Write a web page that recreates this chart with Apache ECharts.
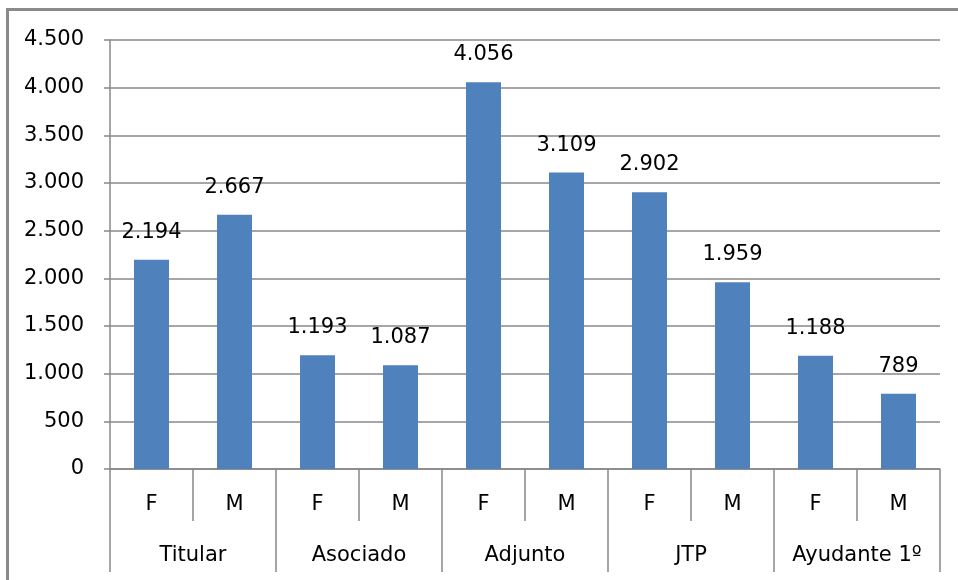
<!DOCTYPE html>
<html><head><meta charset="utf-8">
<script src="https://cdn.jsdelivr.net/npm/echarts@6/dist/echarts.min.js"></script>
<style>html,body{margin:0;padding:0;background:#fff;overflow:hidden;width:958px;height:580px}#c{width:958px;height:580px;position:absolute;left:0;top:0}
#frame{position:absolute;left:6px;top:8px;width:958px;height:580px;border-left:3px solid #8a8a8a;border-top:3px solid #8a8a8a;pointer-events:none;z-index:5}</style>
</head><body><div id="c"></div><div id="frame"></div>
<script>
const sexes = ['F','M','F','M','F','M','F','M','F','M'];
const groups = ['Titular','Asociado','Adjunto','JTP','Ayudante 1º'];
const values = [2194, 2667, 1193, 1087, 4056, 3109, 2902, 1959, 1188, 789];
const yTicks = {min: 0, max: 4500, interval: 500};

const fmt = v => String(v).replace(/\B(?=(\d{3})+(?!\d))/g, '.');
const FONT = 'DejaVu Sans';
const GRAY = '#888888';

const chart = echarts.init(document.getElementById('c'));
chart.setOption({
  animation: false,
  textStyle: {fontFamily: FONT},
  grid: {left: 110, right: 18, top: 40, bottom: 111},
  xAxis: [
    {type: 'category', data: sexes, position: 'bottom',
     axisLine: {lineStyle: {color: GRAY, width: 1.5}},
     axisTick: {show: true, interval: 0, length: 52, lineStyle: {color: GRAY, width: 1.5}},
     axisLabel: {interval: 0, margin: 25, fontSize: 21, color: '#000', fontFamily: FONT}},
    {type: 'category', data: groups, position: 'bottom', offset: 0,
     axisLine: {show: false},
     axisTick: {show: true, interval: 0, length: 103, lineStyle: {color: GRAY, width: 1.5}},
     axisLabel: {interval: 0, margin: 76, fontSize: 21, color: '#000', fontFamily: FONT}}
  ],
  yAxis: {type: 'value', min: yTicks.min, max: yTicks.max, interval: yTicks.interval,
    axisLine: {show: true, lineStyle: {color: GRAY, width: 1.5}},
    axisTick: {show: true, length: 6, inside: false, lineStyle: {color: GRAY, width: 1.5}},
    splitLine: {lineStyle: {color: GRAY, width: 1.5}},
    axisLabel: {fontSize: 21, color: '#000', margin: 26, formatter: fmt, fontFamily: FONT}},
  series: [{
    type: 'bar', data: values, xAxisIndex: 0, barWidth: 35,
    itemStyle: {color: '#4F81BD'},
    label: {show: true, position: 'top', distance: 17, fontSize: 21, color: '#000', formatter: p => fmt(p.value), fontFamily: FONT}
  }]
});
</script></body></html>
